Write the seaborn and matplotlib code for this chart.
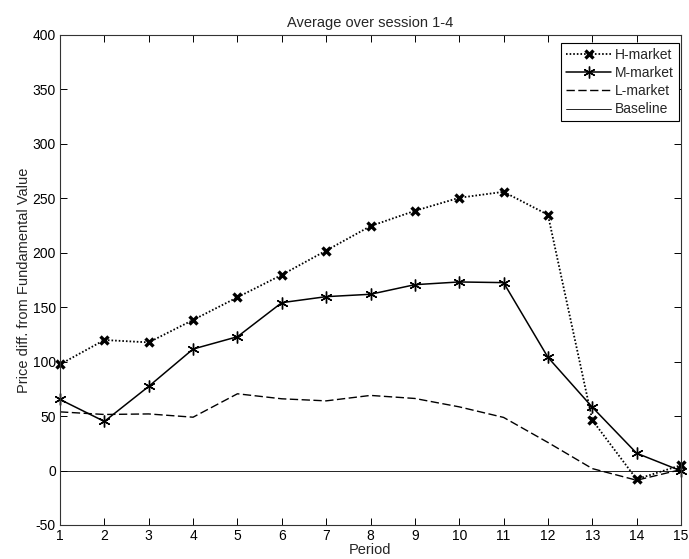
import matplotlib
matplotlib.use("Agg")
import matplotlib.pyplot as plt
import seaborn as sns
import pandas as pd

periods = list(range(1, 16))
h_market = [97.5, 119.9, 117.7, 138.3, 159.1, 179.7, 202.0, 224.5, 238.5, 250.5, 256.0, 234.9, 46.3, -8.0, 4.9]
m_market = [65.3, 45.1, 77.3, 111.6, 122.9, 154.2, 159.7, 161.9, 170.7, 173.2, 172.6, 104.0, 58.2, 15.9, -0.3]
l_market = [53.9, 51.5, 52.0, 49.0, 70.5, 65.9, 64.0, 69.0, 66.2, 58.5, 48.8, 25.8, 1.8, -8.9, 0.9]
baseline = [0] * 15

title = "Average over session 1-4"
xlabel = "Period"
ylabel = "Price diff. from Fundamental Value"

sns.set_style("ticks")
plt.rcParams['font.family'] = ['Liberation Sans', 'DejaVu Sans']
plt.rcParams['axes.unicode_minus'] = False

fig = plt.figure(figsize=(6.89, 5.59), dpi=100)
ax = fig.add_axes([60/689, 34/559, 621/689, 490/559])

asterisk = (6, 2, 0)
styles = [
    (h_market, 'H-market', dict(linestyle=(0, (0.9, 1.1)), linewidth=1.3, marker='x', markersize=5.5, markeredgewidth=2.4)),
    (m_market, 'M-market', dict(linestyle='-', linewidth=1.1, marker=asterisk, markersize=8.5, markeredgewidth=1.0)),
    (l_market, 'L-market', dict(linestyle=(0, (6, 2.5)), linewidth=1.0, marker='None')),
    (baseline, 'Baseline', dict(linestyle='-', linewidth=0.6, marker='None')),
]
handles = []
for vals, name, st in styles:
    sns.lineplot(x=periods, y=vals, ax=ax, color='black', legend=False)
    line = ax.lines[-1]
    line.set_linestyle(st['linestyle'])
    line.set_linewidth(st['linewidth'])
    line.set_marker(st['marker'])
    if 'markersize' in st:
        line.set_markersize(st['markersize'])
        line.set_markeredgewidth(st['markeredgewidth'])
        line.set_markeredgecolor('black')
        line.set_markerfacecolor('black')
    line.set_label(name)
    line.set_clip_on(False)
    handles.append(line)

ax.set_xlim(1, 15)
ax.set_ylim(-50, 400)
ax.set_xticks(periods)
ax.set_yticks(range(-50, 401, 50))
ax.tick_params(direction='in', top=True, right=True, length=5, width=0.7,
               labelsize=10, colors='black', pad=3)
for s in ax.spines.values():
    s.set_color('#333333')
    s.set_linewidth(0.8)

ax.set_title(title, fontsize=10.5, pad=6)
ax.set_xlabel(xlabel, fontsize=10.5, labelpad=0)
ax.set_ylabel(ylabel, fontsize=10.5, labelpad=1)

leg = ax.legend(handles=handles, loc='upper right', fontsize=10, frameon=True, fancybox=False,
                edgecolor='black', handlelength=3.24, borderpad=0.35, labelspacing=0.3,
                handletextpad=0.3, borderaxespad=0, framealpha=1,
                bbox_to_anchor=(679/689, 1 - 43/559), bbox_transform=fig.transFigure)
leg.get_frame().set_linewidth(0.8)

fig.savefig("out.png", dpi=100)
